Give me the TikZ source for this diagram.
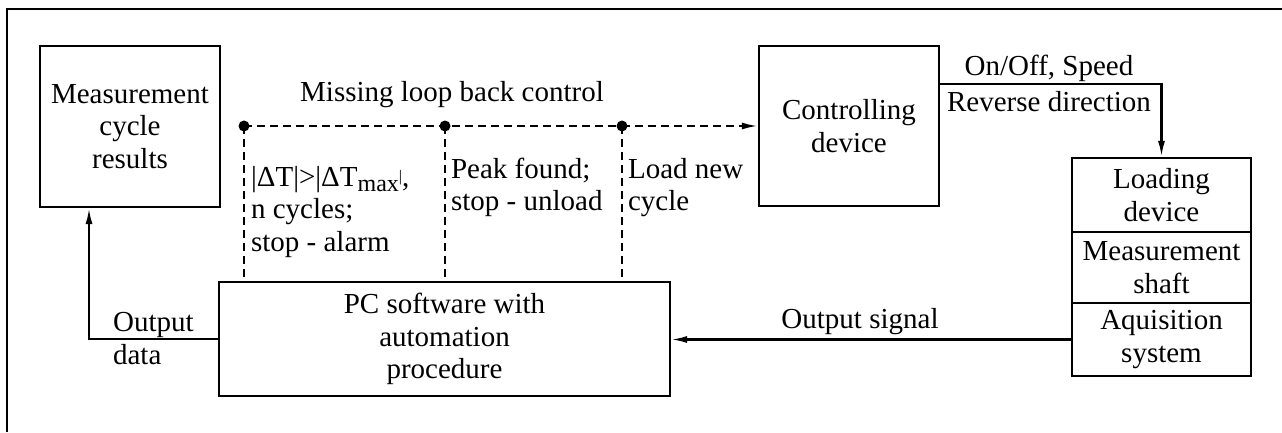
\documentclass[tikz,border=0pt]{standalone}
\usepackage{fontspec}
\setmainfont{Liberation Serif}
\usetikzlibrary{arrows.meta}
\begin{document}
\begin{tikzpicture}[x=1pt,y=-1pt, line width=2.2pt,
  font=\fontsize{29}{32.5}\selectfont,
  box/.style={draw, line width=2.2pt, inner sep=0pt, align=center},
  lbl/.style={inner sep=0pt, align=left, anchor=west},
  arr/.style={-{Latex[length=16pt,width=7pt]}},
  dashline/.style={dash pattern=on 8pt off 5pt},
  dot/.style={circle, fill, inner sep=0pt, minimum size=11pt}]
\useasboundingbox (0,0) rectangle (1282,432);
\draw[line width=2.5pt] (7,432) |- (1282,9);

\node[box, minimum width=180pt, minimum height=161pt] (meas) at (130,126.5) {Measurement\\cycle\\results};
\node[box, minimum width=180pt, minimum height=160pt] (ctrl) at (849,126) {Controlling\\device};
\node[box, minimum width=451pt, minimum height=114pt] (pc) at (444.5,339) {PC software with\\automation\\procedure};
\node[box, minimum width=179pt, minimum height=74pt] (load) at (1161.5,195) {Loading\\device};
\node[box, minimum width=179pt, minimum height=71pt] (shaft) at (1161.5,267.5) {Measurement\\shaft};
\node[box, minimum width=179pt, minimum height=73pt] (acq) at (1161.5,339.5) {Aquisition\\system};

\node[dot] (d1) at (244,126) {};
\node[dot] (d2) at (445,126) {};
\node[dot] (d3) at (622,126) {};
\draw[dashline] (d1.center) -- (d2.center) -- (d3.center);
\draw[dashline, arr] (d3.center) -- (ctrl.west);
\draw[dashline] (d1.center) -- (d1.center |- pc.north);
\draw[dashline] (d2.center) -- (d2.center |- pc.north);
\draw[dashline] (d3.center) -- (d3.center |- pc.north);

\node[inner sep=0pt] (miss) at (452,95) {Missing loop back control};
\node[lbl] (cond1) at (250,212) {|ΔT|>|ΔT\raisebox{-5pt}{\fontsize{24}{24}\selectfont max}\raisebox{5pt}{\fontsize{16}{16}\selectfont|},\\n cycles;\\stop - alarm};
\node[lbl] (cond2) at (450,187.5) {Peak found;\\stop - unload};
\node[lbl] (cond3) at (627,187.5) {Load new\\cycle};

\coordinate (od) at (89,339);
\draw[arr] (pc.west) -- (pc.west -| od) -- (od |- meas.south);
\node[lbl] (outd) at (112,338.5) {Output\\data};

\draw[arr] (acq.west) -- (pc.east |- acq.west);
\node[inner sep=0pt] (outs) at (860,322) {Output signal};

\coordinate (c1) at (1161.5,84);
\draw[arr] (ctrl.east |- c1) -- (c1) -- (load.north);
\node[inner sep=0pt] (onoff) at (1049,68) {On/Off, Speed};
\node[inner sep=0pt] (rev) at (1049,102) {Reverse direction};
\end{tikzpicture}
\end{document}
